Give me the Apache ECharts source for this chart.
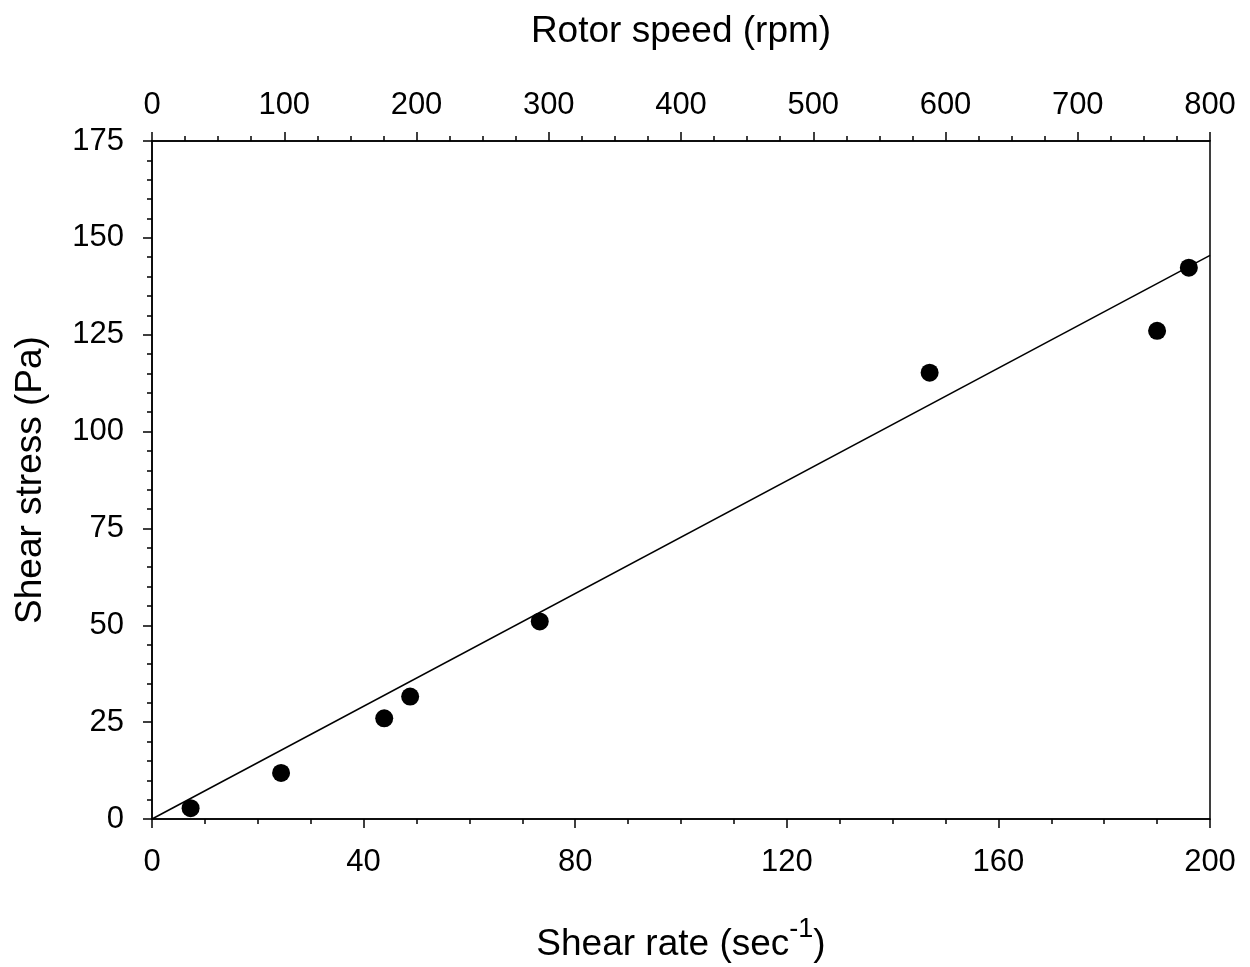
<!DOCTYPE html>
<html>
<head>
<meta charset="utf-8">
<script src="https://cdn.jsdelivr.net/npm/echarts@6/dist/echarts.min.js"></script>
<style>html,body{margin:0;padding:0;background:#fff}#c{width:1250px;height:967px}</style>
</head>
<body>
<div id="c"></div>
<script>
const shearRate = [7.3, 24.4, 43.9, 48.8, 73.3, 147.0, 190.0, 196.0];
const shearStress = [2.8, 11.9, 26.0, 31.6, 51.0, 115.2, 126.0, 142.3];
const fitX = [0, 200];
const fitY = [0, 145.5];
const bottomTicks = [0, 40, 80, 120, 160, 200];
const topTicks = [0, 100, 200, 300, 400, 500, 600, 700, 800];
const leftTicks = [0, 25, 50, 75, 100, 125, 150, 175];

const FONT = '"Liberation Sans", Arial, sans-serif';
const chart = echarts.init(document.getElementById('c'));
const axisCommon = {
  axisLine: {show: true, onZero: false, lineStyle: {color: '#000', width: 1.5}},
  axisTick: {show: true, inside: false, length: 9, lineStyle: {color: '#000', width: 1.5}},
  minorTick: {show: true, length: 5, lineStyle: {color: '#000', width: 1.5}},
  splitLine: {show: false},
  axisLabel: {color: '#000', fontSize: 31, fontFamily: FONT},
  nameMoveOverlap: false,
  nameTextStyle: {color: '#000', fontSize: 37, fontFamily: FONT}
};
chart.setOption({
  animation: false,
  backgroundColor: '#fff',
  grid: {left: 152, right: 40, top: 141, bottom: 148, outerBoundsMode: 'none', containLabel: false,
         show: true, borderColor: '#000', borderWidth: 1.5, backgroundColor: 'transparent'},
  xAxis: [
    Object.assign({}, axisCommon, {
      type: 'value', position: 'bottom', min: bottomTicks[0], max: bottomTicks[bottomTicks.length-1], interval: 40,
      minorTick: Object.assign({}, axisCommon.minorTick, {splitNumber: 4}),
      axisLabel: Object.assign({}, axisCommon.axisLabel, {margin: 28}),
      name: '{a|Shear rate (sec}{s|-1}{a|)}', nameLocation: 'middle', nameGap: 97,
      nameTextStyle: {rich: {
        a: {color: '#000', fontSize: 37, fontFamily: FONT, verticalAlign: 'bottom'},
        s: {color: '#000', fontSize: 27, fontFamily: FONT, verticalAlign: 'bottom', padding: [0, 0, 20, 0]}
      }}
    }),
    Object.assign({}, axisCommon, {
      type: 'value', position: 'top', min: topTicks[0], max: topTicks[topTicks.length-1], interval: 100,
      minorTick: Object.assign({}, axisCommon.minorTick, {splitNumber: 4}),
      axisLabel: Object.assign({}, axisCommon.axisLabel, {margin: 20}),
      name: 'Rotor speed (rpm)', nameLocation: 'middle', nameGap: 91
    })
  ],
  yAxis: [
    Object.assign({}, axisCommon, {
      type: 'value', position: 'left', min: leftTicks[0], max: leftTicks[leftTicks.length-1], interval: 25,
      minorTick: Object.assign({}, axisCommon.minorTick, {splitNumber: 5}),
      axisLabel: Object.assign({}, axisCommon.axisLabel, {margin: 28}),
      name: 'Shear stress (Pa)', nameLocation: 'middle', nameGap: 103, nameRotate: 90
    })
  ],
  series: [
    {
      type: 'line', xAxisIndex: 0, yAxisIndex: 0,
      data: fitX.map((x, i) => [x, fitY[i]]),
      symbol: 'none', lineStyle: {color: '#000', width: 1.5}, z: 2
    },
    {
      type: 'scatter', xAxisIndex: 0, yAxisIndex: 0,
      data: shearRate.map((x, i) => [x, shearStress[i]]),
      symbol: 'circle', symbolSize: 18, itemStyle: {color: '#000', opacity: 1}, z: 3
    }
  ]
});
</script>
</body>
</html>
